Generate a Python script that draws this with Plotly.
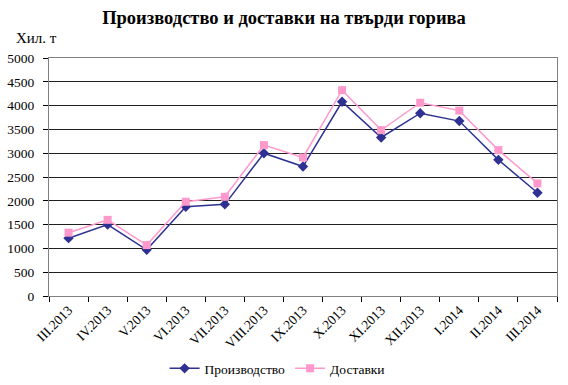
import plotly.graph_objects as go

months = ["III.2013", "IV.2013", "V.2013", "VI.2013", "VII.2013", "VIII.2013", "IX.2013",
          "X.2013", "XI.2013", "XII.2013", "I.2014", "II.2014", "III.2014"]
production = [1215, 1500, 970, 1875, 1925, 3000, 2720, 4080, 3330, 3840, 3675, 2860, 2170]
deliveries = [1330, 1600, 1070, 1980, 2085, 3170, 2910, 4325, 3485, 4060, 3895, 3065, 2365]
y_ticks = [0, 500, 1000, 1500, 2000, 2500, 3000, 3500, 4000, 4500, 5000]

serif = "Liberation Serif, Times New Roman, serif"

fig = go.Figure()
fig.add_trace(go.Scatter(x=months, y=production, name="Производство", mode="lines+markers",
                         line=dict(color="#2E3192", width=1.5),
                         marker=dict(symbol="diamond", size=8, color="#2E3192")))
fig.add_trace(go.Scatter(x=months, y=deliveries, name="Доставки", mode="lines+markers",
                         line=dict(color="#FF99CC", width=1.5),
                         marker=dict(symbol="square", size=8, color="#FF99CC")))

fig.update_layout(
    width=568, height=385,
    margin=dict(l=49, r=11, t=58, b=89, autoexpand=False),
    paper_bgcolor="white", plot_bgcolor="white",
    font=dict(family=serif, size=12, color="black"),
    title=dict(text="<b>Производство и доставки на твърди горива</b>",
               x=0.5, xanchor="center", y=0.955, yanchor="middle",
               font=dict(family=serif, size=18.5, color="black")),
    showlegend=True,
    legend=dict(orientation="h", x=0.45, xanchor="center", y=-0.305, yanchor="middle",
                font=dict(family=serif, size=13.5), itemwidth=30),
    annotations=[dict(text="Хил. т", xref="paper", yref="paper", x=-0.068, y=1.085,
                      xanchor="left", yanchor="middle", showarrow=False,
                      font=dict(family=serif, size=15, color="black"))],
)
fig.update_xaxes(type="category", range=[-0.5, 12.5], tickangle=-45, automargin=False,
                 tickson="boundaries", ticks="outside", ticklen=5, tickcolor="black",
                 showline=True, linecolor="#808080", linewidth=1, mirror=True,
                 showgrid=False, tickfont=dict(family=serif, size=13.5))
fig.update_yaxes(range=[0, 5000], tickvals=y_ticks, ticks="outside", ticklen=5,
                 automargin=False, ticklabelstandoff=6,
                 tickcolor="black", showline=True, linecolor="#808080", linewidth=1,
                 mirror=True, showgrid=True, gridcolor="#202020", gridwidth=1,
                 zeroline=False, tickfont=dict(family=serif, size=13.5))

fig.write_html("out.html", config={"displayModeBar": False},
               post_script="document.body.style.margin='0';")
